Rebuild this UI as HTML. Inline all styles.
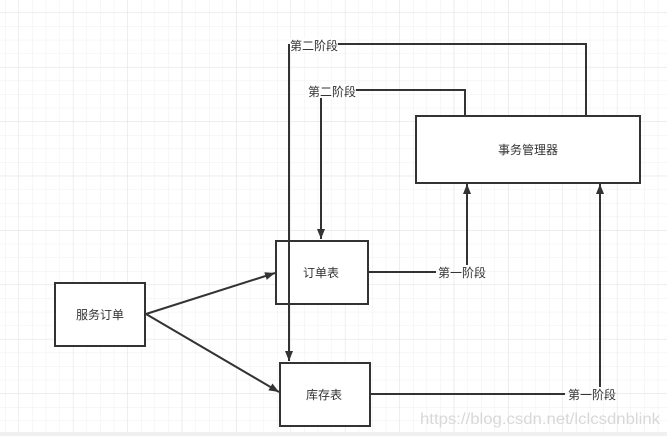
<!DOCTYPE html>
<html><head><meta charset="utf-8"><style>
html,body{margin:0;padding:0;width:667px;height:436px;overflow:hidden;background:#fff}
svg{display:block}
text{font-family:"Liberation Sans","Noto Sans CJK SC",sans-serif;font-size:12px;fill:#333}
</style></head><body>
<svg width="667" height="436" viewBox="0 0 667 436" xmlns="http://www.w3.org/2000/svg">
<defs>
<pattern id="minor" x="5" y="-1" width="13.6" height="13.6" patternUnits="userSpaceOnUse">
<path d="M0 0V13.6M0 0H13.6" stroke="#efefef" stroke-width="1" fill="none"/>
</pattern>
<pattern id="major" x="18.5" y="12.5" width="54.4" height="54.4" patternUnits="userSpaceOnUse">
<path d="M0 0V54.4M0 0H54.4" stroke="#e2e2e2" stroke-width="1" fill="none"/>
</pattern>
<marker id="ar" markerWidth="10" markerHeight="8" refX="10" refY="4" orient="auto" markerUnits="userSpaceOnUse">
<path d="M0,0 L10,4 L0,8 Z" fill="#333"/>
</marker>
</defs>
<rect width="667" height="436" fill="url(#minor)"/>
<rect width="667" height="436" fill="url(#major)"/>
<rect x="0" y="432" width="667" height="4" fill="#f0f0f0"/>
<g stroke="#333" stroke-width="2" fill="none">
<polyline points="586,115 586,44 338,44"/>
<line x1="289" y1="44" x2="289" y2="361" marker-end="url(#ar)"/>
<polyline points="465,115 465,90 356,90"/>
<line x1="321" y1="98" x2="321" y2="239" marker-end="url(#ar)"/>
<line x1="368" y1="272" x2="436" y2="272"/>
<line x1="467" y1="265" x2="467" y2="184" marker-end="url(#ar)"/>
<line x1="370" y1="394" x2="565" y2="394"/>
<line x1="600" y1="387" x2="600" y2="184" marker-end="url(#ar)"/>
<line x1="146" y1="314" x2="275" y2="273" marker-end="url(#ar)"/>
<line x1="146" y1="314" x2="279" y2="392" marker-end="url(#ar)"/>
<rect x="55" y="283" width="90" height="63" fill="#fff"/>
<rect x="276" y="241" width="92" height="63" fill="#fff"/>
<rect x="280" y="363" width="90" height="63" fill="#fff"/>
<rect x="416" y="116" width="224" height="67" fill="#fff"/>
</g>
<line x1="289" y1="241" x2="289" y2="304" stroke="#333" stroke-width="2"/>
<rect x="290" y="38" width="48" height="14" fill="#fff"/>
<rect x="308" y="84" width="48" height="14" fill="#fff"/>
<text x="290" y="50">第二阶段</text>
<text x="308" y="96">第二阶段</text>
<text x="498" y="154">事务管理器</text>
<text x="303" y="277">订单表</text>
<text x="76" y="319">服务订单</text>
<text x="306" y="399">库存表</text>
<text x="438" y="277">第一阶段</text>
<text x="568" y="399">第一阶段</text>
<text x="420" y="424" style="font-size:16px;fill:#d8d8d8" textLength="240" lengthAdjust="spacingAndGlyphs">https://blog.csdn.net/lclcsdnblink</text>
</svg>
</body></html>
